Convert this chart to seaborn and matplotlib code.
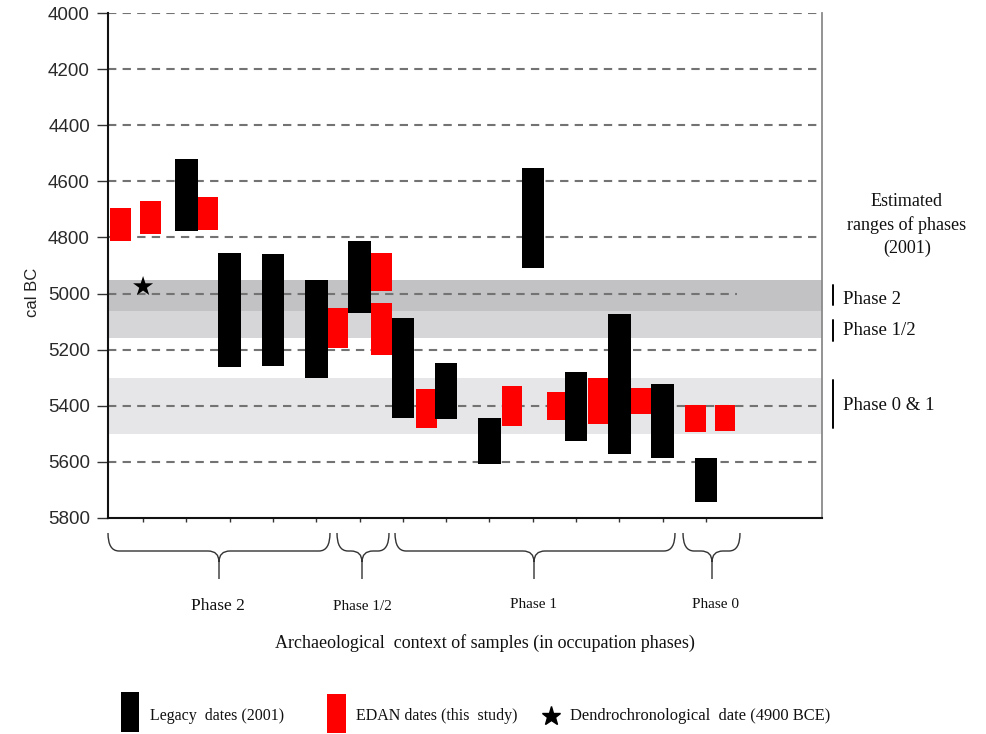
import numpy as np
import pandas as pd
import matplotlib
matplotlib.use("Agg")
import matplotlib.pyplot as plt
import matplotlib.transforms as mtransforms
from matplotlib.path import Path
from matplotlib.patches import PathPatch, Rectangle
from matplotlib.lines import Line2D
import seaborn as sns

# ---------------------------------------------------------------- data
year_ticks = [4000, 4200, 4400, 4600, 4800, 5000, 5200, 5400, 5600, 5800]

# legacy radiocarbon dates (2001): sample context slot, young / old end (cal BC)
legacy_ctx = [1, 2, 3, 4, 5, 6, 7, 8, 9, 10, 11, 12, 13]
legacy_young = [4520, 4855, 4860, 4950, 4813, 5087, 5248, 5444, 4553, 5280, 5072, 5322, 5586]
legacy_old = [4777, 5262, 5258, 5300, 5070, 5444, 5447, 5607, 4909, 5526, 5572, 5586, 5743]

# EDAN dates (this study)
edan_ctx = [-0.52, 0.18, 1.5, 4.5, 5.5, 5.5, 6.55, 8.52, 9.56, 10.51, 11.52, 12.75, 13.44]
edan_young = [4695, 4670, 4656, 5052, 4857, 5033, 5340, 5329, 5351, 5301, 5335, 5397, 5397]
edan_old = [4813, 4788, 4773, 5194, 4992, 5219, 5480, 5472, 5451, 5465, 5431, 5494, 5491]

# dendrochronological date
dendro_ctx = [0]
dendro_year = [4975]

# estimated phase ranges (2001)
phase_names = ["Phase 2", "Phase 1/2", "Phase 0 & 1"]
phase_start = [4952, 5063, 5300]
phase_end = [5063, 5160, 5500]

# occupation-phase groups of the sample contexts
group_names = ["Phase 2", "Phase 1/2", "Phase 1", "Phase 0"]

# ---------------------------------------------------------------- style
sns.set_theme(style="white")
plt.rcParams["font.family"] = ["Liberation Sans", "DejaVu Sans"]
SERIF = ["Liberation Serif", "DejaVu Serif"]

W, H = 987, 734
fig = plt.figure(figsize=(W / 100, H / 100), dpi=100)
fig.patch.set_facecolor("white")


def fx(px):
    return px / W


def fy(py):
    return 1 - py / H


ax = fig.add_axes([fx(108), fy(518), (822 - 108) / W, (518 - 13) / H])
ax.set_facecolor("white")

# phase bands
band_colors = ["#c2c2c4", "#d6d6d8", "#e6e6e8"]
for s, e, c in zip(phase_start, phase_end, band_colors):
    ax.axhspan(s, e, color=c, lw=0, zorder=0)

# dashed reference lines
for v in year_ticks[:-1]:
    xmax = 0.881 if v == 5000 else 1.0
    ax.axhline(v, xmin=0, xmax=xmax, color="#737373", lw=1.5,
               ls=(0, (4, 3)), zorder=1)

# floating range bars
e_lo = np.array(edan_young)
e_hi = np.array(edan_old)
l_lo = np.array(legacy_young)
l_hi = np.array(legacy_old)
ax.bar(edan_ctx, e_hi - e_lo, bottom=e_lo, width=0.48, color="#ff0000",
       lw=0, zorder=2)
ax.bar(legacy_ctx, l_hi - l_lo, bottom=l_lo, width=0.52, color="#000000",
       lw=0, zorder=3)

dendro = pd.DataFrame({"ctx": dendro_ctx, "year": dendro_year})
sns.scatterplot(data=dendro, x="ctx", y="year", marker="*", s=230,
                color="black", edgecolor="none", ax=ax, zorder=4, legend=False)

ax.set_xlim(-0.81, 15.68)
ax.set_ylim(5800, 4000)
ax.set_yticks(year_ticks)
ax.set_yticklabels([str(t) for t in year_ticks])
ax.set_xticks(range(14))
ax.set_xticklabels([])
ax.set_xlabel("")
ax.set_ylabel("")
ax.tick_params(axis="y", direction="out", length=8, width=1, color="#333333",
               labelsize=13.5, labelcolor="#2a2a2a", pad=5, left=True)
ax.tick_params(axis="x", direction="out", length=3, width=1, color="#333333",
               bottom=True)
ax.spines["top"].set_visible(False)
ax.spines["right"].set_color("#8a8a8a")
ax.spines["right"].set_linewidth(1.3)
for side in ("left", "bottom"):
    ax.spines[side].set_color("#111111")
    ax.spines[side].set_linewidth(1.5)

fig.text(fx(33), fy(292), "cal BC", rotation=90, ha="center", va="center",
         fontsize=12, color="#222222")

# estimated phase ranges, right of the plot
fig.text(fx(907), fy(225), "Estimated\nranges of phases\n(2001)", ha="center",
         va="center", fontsize=13, family=SERIF, linespacing=1.4,
         color="#111111")
trans = mtransforms.blended_transform_factory(ax.transAxes, ax.transData)
marker_spans = [(4970, 5041), (5094, 5169), (5308, 5480)]
label_rows = [5020, 5132, 5398]
for name, (a, b), yl in zip(phase_names, marker_spans, label_rows):
    ax.add_line(Line2D([1.0154, 1.0154], [a, b], transform=trans, color="black",
                       lw=1.4, clip_on=False))
    ax.text(1.029, yl, name, transform=trans, ha="left", va="center",
            fontsize=13.5, family=SERIF, color="#111111", clip_on=False)


# curly braces grouping the sample contexts
def brace(x0, x1, xc, ytop=533, ymid=551, ybot=579, r=11):
    pts = [
        (x0, ytop), (x0, ymid), (x0 + r, ymid), (xc - r, ymid),
        (xc, ymid), (xc, ymid + r), (xc, ybot),
        (x1, ytop), (x1, ymid), (x1 - r, ymid), (xc + r, ymid),
        (xc, ymid), (xc, ymid + r),
    ]
    codes = [
        Path.MOVETO, Path.CURVE3, Path.CURVE3, Path.LINETO,
        Path.CURVE3, Path.CURVE3, Path.LINETO,
        Path.MOVETO, Path.CURVE3, Path.CURVE3, Path.LINETO,
        Path.CURVE3, Path.CURVE3,
    ]
    verts = [(fx(x), fy(y)) for x, y in pts]
    fig.add_artist(PathPatch(Path(verts, codes), transform=fig.transFigure,
                             fill=False, lw=1.0, edgecolor="#333333"))


brace_spans = [(108, 330, 219), (337, 389, 362), (395, 675, 534), (683, 740, 712)]
label_xy = [(218, 606), (362, 606), (534, 605), (716, 604)]
label_sizes = [12.5, 11, 11, 11]
for (a, b, c), (lx, ly), fs, name in zip(brace_spans, label_xy, label_sizes,
                                          group_names):
    brace(a, b, c)
    fig.text(fx(lx), fy(ly), name, ha="center", va="center", fontsize=fs,
             family=SERIF, color="#111111")

fig.text(fx(485), fy(643),
         "Archaeological  context of samples (in occupation phases)",
         ha="center", va="center", fontsize=13, family=SERIF, color="#111111")

# legend row
fig.add_artist(Rectangle((fx(121), fy(732)), fx(18), (732 - 692) / H,
                         transform=fig.transFigure, color="black", lw=0))
fig.text(fx(150), fy(716), "Legacy  dates (2001)", ha="left", va="center",
         fontsize=11.5, family=SERIF, color="#111111")
fig.add_artist(Rectangle((fx(327), fy(733)), fx(19), (733 - 694) / H,
                         transform=fig.transFigure, color="#ff0000", lw=0))
fig.text(fx(356), fy(716), "EDAN dates (this  study)", ha="left", va="center",
         fontsize=11.5, family=SERIF, color="#111111")
fig.add_artist(Line2D([fx(551)], [fy(716)], marker="*", markersize=14,
                      color="black", transform=fig.transFigure))
fig.text(fx(570), fy(716), "Dendrochronological  date (4900 BCE)", ha="left",
         va="center", fontsize=11.9, family=SERIF, color="#111111")

fig.savefig("out.png", dpi=100, facecolor="white")
